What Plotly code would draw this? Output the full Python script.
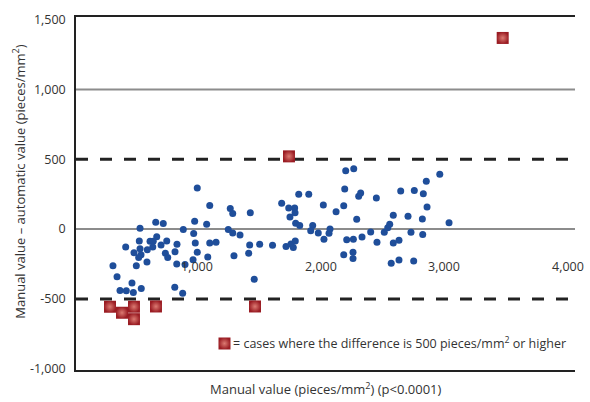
import plotly.graph_objects as go

# Blue dots: manual value (x) and manual - automatic difference (y)
manual = [1002, 1103, 1269, 1289, 1431, 1685, 1742, 1790, 1793, 1752, 1823, 1904, 2022, 1798, 1831,
          1936, 1920, 1981, 2027, 539, 666, 727, 889, 981, 1078, 973, 1253, 1289, 1348, 674,
          620, 646, 533, 755, 709, 642, 598, 539, 547, 528, 490, 423, 595, 509, 744,
          763, 822, 838, 986, 1002, 968, 836, 903, 1103, 1154, 1087, 1299, 1418, 1426, 1507,
          1611, 1720, 1760, 1779, 1795, 320, 353, 377, 428, 474, 485, 549, 820, 884, 1463,
          2203, 2268, 2195, 2187, 2125, 2308, 2324, 2451, 2292, 2076, 2068, 2211, 2265, 2335, 2405,
          2456, 2515, 2543, 2559, 2588, 2588, 2634, 2648, 2707, 2731, 2758, 2823, 2826, 2831, 2861,
          2855, 2964, 3039, 2187, 2262, 2262, 2571, 2634, 2753]
difference = [294, 169, 148, 111, 118, 186, 151, 151, 118, 87, 249, 249, 172, 42, 26,
              26, -11, -28, -73, 7, 49, 40, -2, 56, 35, -32, -2, -28, -42, -54,
              -87, -87, -85, -85, -113, -129, -148, -141, -183, -204, -169, -129, -235, -263, -173,
              -204, -162, -108, -99, -166, -220, -249, -254, -99, -94, -199, -190, -173, -113, -108,
              -115, -124, -106, -131, -85, -263, -342, -439, -441, -386, -454, -425, -416, -460, -359,
              418, 432, 287, 167, 125, 235, 258, 223, 70, 0, -30, -77, -73, -56, -21,
              -94, -23, 10, 35, 99, -99, -80, 273, 92, -23, 277, 73, -39, 254, 158,
              343, 392, 45, -183, -166, -211, -245, -222, -229]

# Red squares: cases where the difference is 500 pieces/mm2 or higher
big_manual = [1744, 296, 393, 490, 490, 668, 1469, 3473]
big_difference = [521, -556, -599, -556, -645, -554, -554, 1369]

x_ticks = [0, 1000, 2000, 3000, 4000]
x_tick_labels = ["0", "1,000", "2,000", "3,000", "4,000"]
y_ticks = [-1000, -500, 0, 500, 1000, 1500]
y_tick_labels = ["-1,000", "-500", "0", "500", "1,000", "1,500"]
solid_lines = [0, 1000]
dashed_lines = [-500, 500]

FONT = "Open Sans"
TXT = "#333333"

fig = go.Figure()
fig.add_trace(go.Scatter(
    x=manual, y=difference, mode="markers", showlegend=False,
    marker=dict(size=7, color="#1f4e9a"), hoverinfo="skip"))
fig.add_trace(go.Scatter(
    x=big_manual, y=big_difference, mode="markers", name=" ", showlegend=True,
    marker=dict(symbol="square", size=12, color="#9a1c23",
                gradient=dict(type="radial", color="#dc7a72"), line=dict(width=0)),
    hoverinfo="skip"))

shapes = []
for v in solid_lines:
    shapes.append(dict(type="line", xref="paper", x0=0, x1=1, yref="y", y0=v, y1=v,
                       line=dict(color="#8c8c8c", width=2), layer="below"))
for v in dashed_lines:
    shapes.append(dict(type="line", xref="paper", x0=0, x1=1, yref="y", y0=v, y1=v,
                       line=dict(color="#222222", width=3, dash="12px,12px"), layer="below"))

annotations = []
for v, t in zip(x_ticks, x_tick_labels):
    if v == 0:
        annotations.append(dict(x=v, y=-270, xref="x", yref="y", text=t, showarrow=False,
                                xanchor="left", yanchor="middle", xshift=3,
                                font=dict(family=FONT, size=12.5, color=TXT)))
    else:
        annotations.append(dict(x=v, y=-270, xref="x", yref="y", text=t, showarrow=False,
                                xanchor="center", yanchor="middle",
                                font=dict(family=FONT, size=12.5, color=TXT)))
annotations.append(dict(x=-0.1152, y=0.532, xref="paper", yref="paper", textangle=-90,
                        text="Manual value \u2013 automatic value (pieces/mm<sup>2</sup>)",
                        showarrow=False, xanchor="center", yanchor="middle",
                        font=dict(family=FONT, size=13, color=TXT)))
annotations.append(dict(x=0.501, y=-0.053, xref="paper", yref="paper",
                        text="Manual value (pieces/mm<sup>2</sup>) (p&lt;0.0001)",
                        showarrow=False, xanchor="center", yanchor="middle",
                        font=dict(family=FONT, size=13, color=TXT)))
annotations.append(dict(x=0.3106, y=0.0752, xref="paper", yref="paper",
                        text="= cases where the difference is 500 pieces/mm<sup>2</sup> or higher",
                        showarrow=False, xanchor="left", yanchor="middle",
                        font=dict(family=FONT, size=12.5, color=TXT)))

fig.update_layout(
    width=590, height=402,
    margin=dict(l=76, r=15, t=11, b=32),
    paper_bgcolor="white", plot_bgcolor="white",
    font=dict(family=FONT, size=12.5, color=TXT),
    shapes=shapes, annotations=annotations,
    legend=dict(x=0.3066, y=0.0752, xanchor="center", yanchor="middle",
                bgcolor="rgba(0,0,0,0)", font=dict(size=12), itemwidth=30,
                tracegroupgap=0),
    xaxis=dict(range=[21, 4058], showticklabels=False, showgrid=False, zeroline=False,
               showline=True, mirror=True, linecolor="#222222", linewidth=1.5, ticks=""),
    yaxis=dict(range=[-1009, 1519], tickvals=y_ticks, ticktext=y_tick_labels,
               showgrid=False, zeroline=False, showline=True, linecolor="#222222",
               linewidth=1.5, ticks="outside", ticklen=6, tickcolor="rgba(0,0,0,0)",
               tickfont=dict(family=FONT, size=12.5, color=TXT)),
)

fig.write_html("out.html", config={"displayModeBar": False},
               post_script="document.body.style.margin='0';")
